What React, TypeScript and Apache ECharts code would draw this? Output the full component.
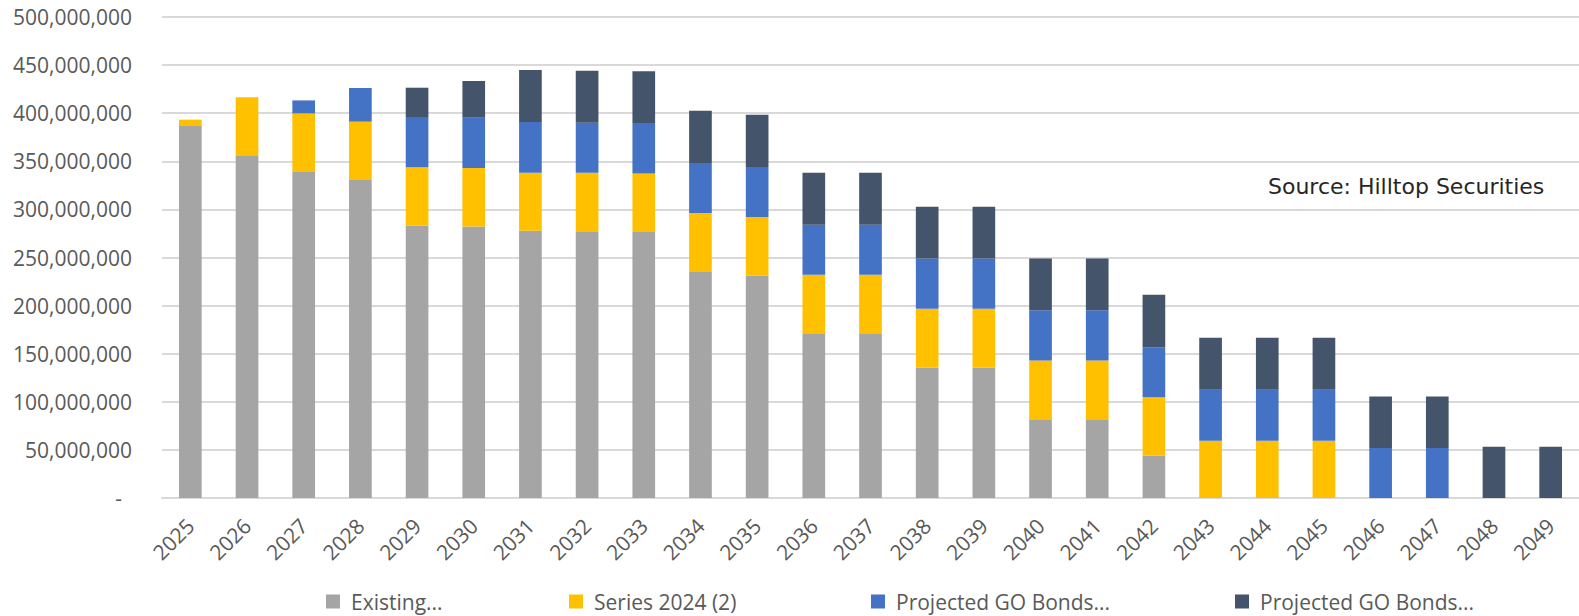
import React, { useEffect, useRef } from "react";
import * as echarts from "echarts";

const years = [
  "2025", "2026", "2027", "2028", "2029", "2030", "2031", "2032", "2033", "2034",
  "2035", "2036", "2037", "2038", "2039", "2040", "2041", "2042", "2043", "2044",
  "2045", "2046", "2047", "2048", "2049",
];

const existing = [
  386700000, 356200000, 338800000, 330500000, 283000000, 282300000, 277800000, 277400000,
  276400000, 234800000, 231300000, 171300000, 171300000, 135600000, 135600000, 81800000,
  81800000, 44000000, 0, 0, 0, 0, 0, 0, 0,
];

const series2024 = [
  6600000, 60300000, 61000000, 60700000, 60700000, 60700000, 60300000, 60700000,
  61000000, 61400000, 60700000, 60700000, 60700000, 61000000, 61000000, 61100000,
  61100000, 60700000, 59600000, 59600000, 59600000, 0, 0, 0, 0,
];

const goBondsA = [
  0, 0, 13500000, 35000000, 52300000, 52300000, 52700000, 52000000, 52400000, 52000000,
  52000000, 52000000, 52000000, 52400000, 52400000, 52300000, 52300000, 52000000,
  52800000, 52800000, 52800000, 52000000, 52000000, 0, 0,
];

const goBondsB = [
  0, 0, 0, 0, 30500000, 38200000, 54100000, 54100000, 53700000, 54400000, 54500000,
  54100000, 54100000, 53700000, 53700000, 53800000, 53800000, 54500000, 54100000,
  54100000, 54100000, 53400000, 53400000, 53400000, 53400000,
];

const seriesNames = ["Existing...", "Series 2024 (2)", "Projected GO Bonds... A", "Projected GO Bonds... B"];
const legendLabels = ["Existing...", "Series 2024 (2)", "Projected GO Bonds...", "Projected GO Bonds..."];
const colors = ["#A5A5A5", "#FFC000", "#4472C4", "#44546A"];
const seriesData = [existing, series2024, goBondsA, goBondsB];
const legendLefts = [321, 564, 866, 1230];

const FONT = "'Open Sans', sans-serif";

export default function App() {
  const ref = useRef<HTMLDivElement>(null);

  useEffect(() => {
    if (!ref.current) return;
    const chart = echarts.init(ref.current, null, { renderer: "svg" });
    chart.setOption({
      animation: false,
      backgroundColor: "#ffffff",
      grid: { left: 162, right: 0, top: 17, bottom: 118, containLabel: false },
      xAxis: {
        type: "category",
        data: years,
        axisTick: { show: false },
        axisLine: { lineStyle: { color: "#D9D9D9", width: 2 } },
        axisLabel: {
          rotate: 45,
          margin: 24,
          color: "#595959",
          fontSize: 21,
          fontFamily: FONT,
          interval: 0,
        },
      },
      yAxis: {
        type: "value",
        min: 0,
        max: 500000000,
        interval: 50000000,
        axisLine: { show: false },
        axisTick: { show: false },
        splitLine: { lineStyle: { color: "#D9D9D9", width: 2 } },
        axisLabel: {
          margin: 30,
          color: "#595959",
          fontSize: 21,
          fontFamily: FONT,
          formatter: (v: number) => (v === 0 ? "{d|-}" : v.toLocaleString("en-US")),
          rich: {
            d: { padding: [0, 10, 0, 0], fontSize: 21, fontFamily: FONT, color: "#595959" },
          },
        },
      },
      legend: seriesNames.map((n, i) => ({
        data: [n],
        left: legendLefts[i],
        top: 586,
        icon: "rect",
        itemWidth: 14,
        itemHeight: 14,
        formatter: () => legendLabels[i],
        textStyle: {
          color: "#595959",
          fontSize: 21,
          fontFamily: FONT,
          padding: [0, 0, 0, 6],
        },
      })),
      series: seriesNames.map((n, i) => ({
        name: n,
        type: "bar",
        stack: "total",
        barWidth: "40%",
        itemStyle: { color: colors[i] },
        data: seriesData[i].map((v) => (v === 0 ? null : v)),
      })),
      graphic: [
        {
          type: "text",
          left: 1268,
          top: 175,
          style: {
            text: "Source: Hilltop Securities",
            fill: "#262626",
            fontSize: 22,
            fontFamily: "'DejaVu Sans', Verdana, sans-serif",
          },
        },
      ],
    });
    return () => chart.dispose();
  }, []);

  return (
    <div
      ref={ref}
      style={{ position: "absolute", left: 0, top: 0, width: 1579, height: 616 }}
    />
  );
}
